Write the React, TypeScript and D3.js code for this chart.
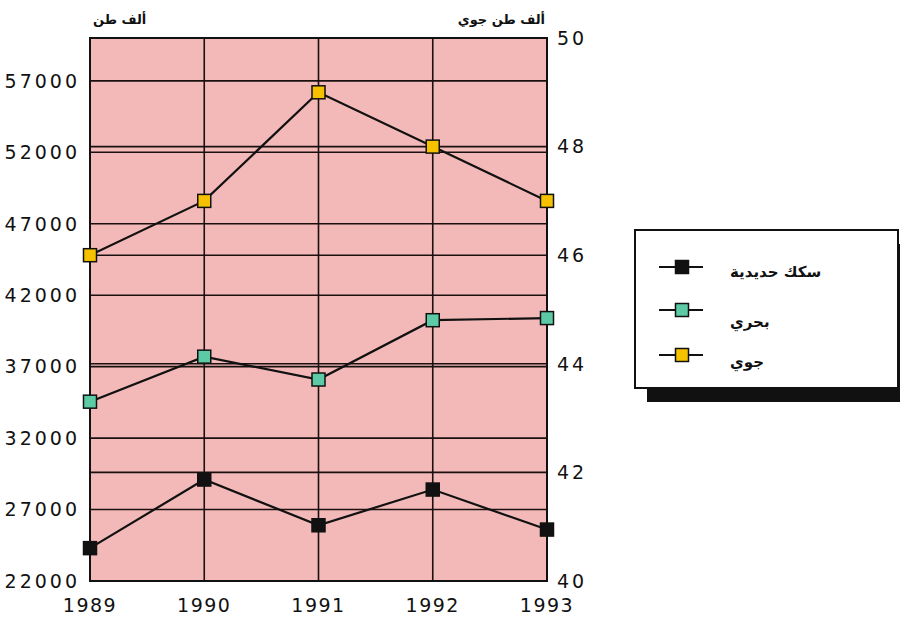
import React from "react";
import * as d3 from "d3";

const years = [1989, 1990, 1991, 1992, 1993];
const railValues = [24300, 29100, 25900, 28400, 25600]; // left axis, thousand tonnes
const seaValues = [34550, 37700, 36100, 40250, 40400]; // left axis
const airValues = [46.0, 47.0, 49.0, 48.0, 47.0]; // right axis
const leftTicks = [22000, 27000, 32000, 37000, 42000, 47000, 52000, 57000];
const rightTicks = [40, 42, 44, 46, 48, 50];
const legendLabels = ["سكك حديدية", "بحري", "جوي"];
const leftTitle = "ألف طن";
const rightTitle = "ألف طن جوي";

const W = 900;
const H = 620;
const PL = 90, PR = 547, PT = 38, PB = 581;
const PINK = "#f3b9b8";
const GREEN = "#5ccaa5";
const YELLOW = "#f6c200";

export default function App() {
  const x = d3.scaleLinear().domain([1989, 1993]).range([PL, PR]);
  const yL = d3.scaleLinear().domain([22000, 60000]).range([PB, PT]);
  const yR = d3.scaleLinear().domain([40, 50]).range([PB, PT]);

  const lineL = d3.line<number>().x((_, i) => x(years[i])).y((d) => yL(d));
  const lineR = d3.line<number>().x((_, i) => x(years[i])).y((d) => yR(d));

  const series = [
    { vals: railValues, line: lineL, y: yL, fill: "#111" },
    { vals: seaValues, line: lineL, y: yL, fill: GREEN },
    { vals: airValues, line: lineR, y: yR, fill: YELLOW },
  ];
  const ms = 13;
  const tickFont = "'DejaVu Sans', sans-serif";
  const arFont = "'DejaVu Sans', sans-serif";

  return (
    <svg width={W} height={H} style={{ position: "absolute", left: 0, top: 0, background: "#fff" }}>
      <rect x={PL} y={PT} width={PR - PL} height={PB - PT} fill={PINK} />
      {leftTicks.slice(1).map((t) => (
        <line key={"gl" + t} x1={PL} x2={PR} y1={yL(t)} y2={yL(t)} stroke="#1a1010" strokeWidth={1.6} />
      ))}
      {rightTicks.slice(1, -1).map((t) => (
        <line key={"gr" + t} x1={PL} x2={PR} y1={yR(t)} y2={yR(t)} stroke="#1a1010" strokeWidth={1.6} />
      ))}
      {years.slice(1, -1).map((yv) => (
        <line key={"gv" + yv} x1={x(yv)} x2={x(yv)} y1={PT} y2={PB} stroke="#1a1010" strokeWidth={1.6} />
      ))}
      <rect x={PL} y={PT} width={PR - PL} height={PB - PT} fill="none" stroke="#111" strokeWidth={2} />

      {series.map((s, si) => (
        <g key={"s" + si}>
          <path d={s.line(s.vals) || ""} fill="none" stroke="#111" strokeWidth={2.2} />
          {s.vals.map((v, i) => (
            <rect
              key={i}
              x={x(years[i]) - ms / 2}
              y={s.y(v) - ms / 2}
              width={ms}
              height={ms}
              fill={s.fill}
              stroke="#111"
              strokeWidth={1.5}
            />
          ))}
        </g>
      ))}

      {leftTicks.map((t) => (
        <text key={"lt" + t} x={80} y={yL(t)} dy="0.36em" textAnchor="end" fontFamily={tickFont} fontSize={19} letterSpacing={3} fill="#111">
          {t}
        </text>
      ))}
      {rightTicks.map((t) => (
        <text key={"rt" + t} x={557} y={yR(t)} dy="0.36em" textAnchor="start" fontFamily={tickFont} fontSize={19} letterSpacing={3} fill="#111">
          {t}
        </text>
      ))}
      {years.map((yv) => (
        <text key={"xt" + yv} x={x(yv)} y={612} textAnchor="middle" fontFamily={tickFont} fontSize={19} letterSpacing={1.5} fill="#111">
          {yv}
        </text>
      ))}

      <text x={93} y={24} textAnchor="start" fontFamily={arFont} fontWeight="bold" fontSize={13} fill="#111">
        {leftTitle}
      </text>
      <text x={545} y={24} textAnchor="end" fontFamily={arFont} fontWeight="bold" fontSize={13} fill="#111">
        {rightTitle}
      </text>

      <rect x={647} y={244} width={263} height={158} fill="#111" />
      <rect x={635} y={230} width={263} height={158} fill="#fff" stroke="#111" strokeWidth={2} />
      {legendLabels.map((lab, i) => {
        const ly = [267, 310, 355][i];
        const ty = [272, 322, 362][i];
        const fill = ["#111", GREEN, YELLOW][i];
        return (
          <g key={"lg" + i}>
            <line x1={659} x2={703} y1={ly} y2={ly} stroke="#111" strokeWidth={2} />
            <rect x={682 - ms / 2} y={ly - ms / 2} width={ms} height={ms} fill={fill} stroke="#111" strokeWidth={1.5} />
            <text x={730} y={ty} dy="0.35em" textAnchor="start" fontFamily={arFont} fontWeight="bold" fontSize={15} fill="#111">
              {lab}
            </text>
          </g>
        );
      })}
    </svg>
  );
}
